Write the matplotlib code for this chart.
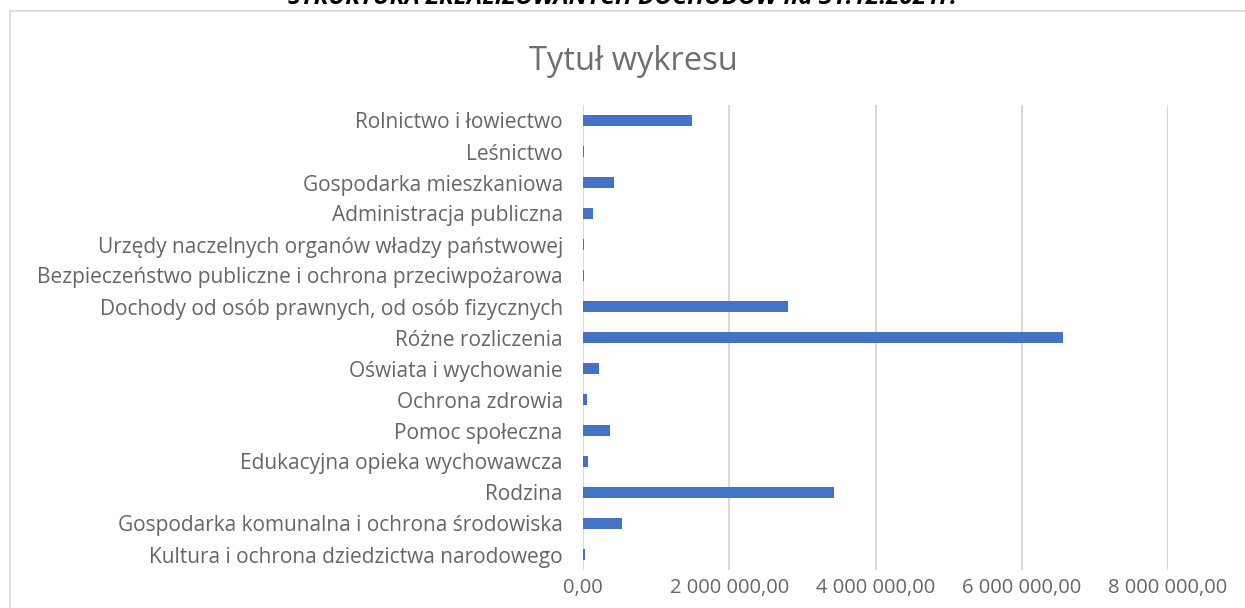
import matplotlib
matplotlib.use("Agg")
import matplotlib.pyplot as plt
from matplotlib.patches import Rectangle
from matplotlib.ticker import FuncFormatter

plt.rcParams['font.family'] = ['Open Sans', 'DejaVu Sans']

# dane (od góry do dołu)
categories = [
    'Rolnictwo i łowiectwo',
    'Leśnictwo',
    'Gospodarka mieszkaniowa',
    'Administracja publiczna',
    'Urzędy naczelnych organów władzy państwowej',
    'Bezpieczeństwo publiczne i ochrona przeciwpożarowa',
    'Dochody od osób prawnych, od osób fizycznych',
    'Różne rozliczenia',
    'Oświata i wychowanie',
    'Ochrona zdrowia',
    'Pomoc społeczna',
    'Edukacyjna opieka wychowawcza',
    'Rodzina',
    'Gospodarka komunalna i ochrona środowiska',
    'Kultura i ochrona dziedzictwa narodowego',
]
values = [1490000, 14000, 420000, 137000, 14000, 14000, 2800000, 6560000,
          220000, 50000, 370000, 70000, 3430000, 530000, 27000]
xticks = [0, 2000000, 4000000, 6000000, 8000000]

grey = '#666666'

fig = plt.figure(figsize=(12.45, 6.08), dpi=100)

# ramka wykresu
fig.patches.append(Rectangle((10/1245, -0.05), 1.1, 1.05 - 11/608,
                             transform=fig.transFigure, fill=False,
                             edgecolor='#d9d9d9', linewidth=1.2))

fig.text(0.5, 1.003, 'STRUKTURA ZREALIZOWANYCH DOCHODÓW na 31.12.2021r.',
         ha='center', va='center', fontsize=17.5, fontweight='bold',
         fontstyle='italic', color='black')

fig.text(0.509, 1 - 62/608, 'Tytuł wykresu', ha='center', va='center',
         fontsize=23.5, color='#6e6e6e')

ax = fig.add_axes([583/1245, 1 - 570/608, (1168 - 583)/1245, (570 - 105)/608])

pos = list(range(len(categories)))[::-1]
ax.barh(pos, values, height=0.38, color='#4472C4', zorder=3)

ax.set_xlim(0, 8000000)
ax.set_ylim(-0.5, len(categories) - 0.5)
ax.set_yticks(pos)
ax.set_yticklabels(categories)
ax.set_xticks(xticks)
ax.xaxis.set_major_formatter(FuncFormatter(
    lambda v, p: '{:,.2f}'.format(v).replace(',', ' ').replace('.', ',')))

ax.grid(axis='x', color='#d9d9d9', linewidth=1.5, zorder=0)
for s in ax.spines.values():
    s.set_visible(False)
ax.tick_params(axis='both', length=0, labelsize=14.5, colors=grey)
ax.tick_params(axis='y', labelsize=15, pad=14.5)
ax.tick_params(axis='x', pad=6)

fig.savefig('out.png', dpi=100)
